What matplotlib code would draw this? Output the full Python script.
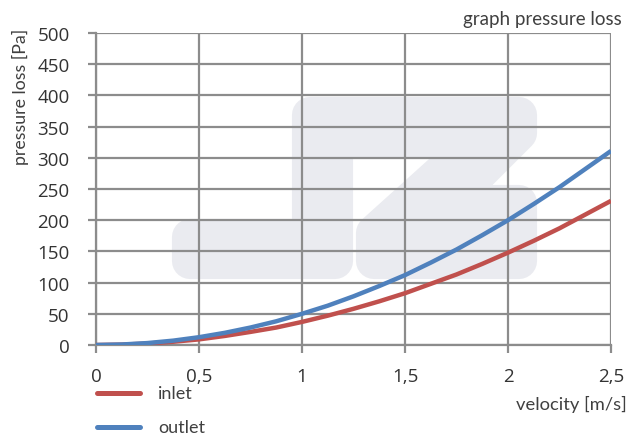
import matplotlib
matplotlib.use("Agg")
import matplotlib.pyplot as plt
from matplotlib.patches import Polygon
from matplotlib.lines import Line2D

# ---- data ----
velocity = [0, 0.125, 0.25, 0.375, 0.5, 0.625, 0.75, 0.875, 1.0, 1.125, 1.25,
            1.375, 1.5, 1.625, 1.75, 1.875, 2.0, 2.125, 2.25, 2.375, 2.5]
inlet = [0, 0.6, 2.3, 5.2, 9, 14.5, 21, 28, 37, 47, 58,
         70, 83, 98, 113, 130, 148, 167, 187, 209, 231]
outlet = [0, 0.8, 3.1, 7, 12.5, 19.5, 28, 38, 50, 63, 78,
          94.5, 112, 132, 153, 176, 200, 226, 253, 282, 311]
x_ticks = [0, 0.5, 1, 1.5, 2, 2.5]
x_ticklabels = ["0", "0,5", "1", "1,5", "2", "2,5"]
y_ticks = [0, 50, 100, 150, 200, 250, 300, 350, 400, 450, 500]

W, H = 630, 435
fig = plt.figure(figsize=(W / 100, H / 100), dpi=100)
L, R, T, B = 96, 611, 34, 346
ax = fig.add_axes([L / W, 1 - B / H, (R - L) / W, (B - T) / H])

ax.set_xlim(0, 2.5)
ax.set_ylim(0, 500)

grid_c = "#8c8c8c"
# watermark logo (pixel coords -> data coords), rounded by a thick stroke
def px2data(px, py):
    return ((px - L) / (R - L) * 2.5, (B - py) / (B - T) * 500)

logo_px = [(310, 116), (519, 116), (519, 134), (449, 204), (519, 204),
           (519, 262), (374, 262), (374, 234), (476, 142), (335, 142),
           (335, 262), (190, 262), (190, 238), (310, 238)]
logo = Polygon([px2data(*p) for p in logo_px], closed=True,
               facecolor="#eaebf0", edgecolor="#eaebf0", linewidth=26,
               joinstyle="round", zorder=0)
ax.add_patch(logo)

ax.set_xticks(x_ticks)
ax.set_xticklabels(x_ticklabels)
ax.set_yticks(y_ticks)
ax.grid(True, color=grid_c, linewidth=1.6, zorder=1)
ax.set_axisbelow(True)
for s in ["top", "right"]:
    ax.spines[s].set_visible(False)
for s in ["left", "bottom"]:
    ax.spines[s].set_color(grid_c)
    ax.spines[s].set_linewidth(1.6)
ax.tick_params(axis="both", colors=grid_c, length=6, width=1.6,
               labelcolor="#333333", labelsize=13.5)
ax.tick_params(axis="x", pad=10)
ax.tick_params(axis="y", pad=13)
for lab in ax.get_xticklabels() + ax.get_yticklabels():
    lab.set_fontfamily("Open Sans")

l1, = ax.plot(velocity, inlet, color="#c0504d", linewidth=3.2, zorder=3,
              solid_capstyle="butt")
l2, = ax.plot(velocity, outlet, color="#4f81bd", linewidth=3.2, zorder=4,
              solid_capstyle="butt")

txt_c = "#404040"
fig.text(622 / W, 1 - 19 / H, "graph pressure loss", ha="right", va="center",
         fontsize=13.5, color=txt_c, family="Lato")
fig.text(20 / W, 1 - 97 / H, "pressure loss [Pa]", ha="center", va="center",
         rotation=90, fontsize=12.8, color=txt_c, family="Lato")
fig.text(627 / W, 1 - 404 / H, "velocity [m/s]", ha="right", va="center",
         fontsize=13.2, color=txt_c, family="Lato")

# legend (manual)
for line, label, py in [(l1, "inlet", 394), (l2, "outlet", 428)]:
    fig.add_artist(Line2D([97 / W, 140 / W], [1 - py / H, 1 - py / H],
                          color=line.get_color(), linewidth=3.6,
                          transform=fig.transFigure, solid_capstyle="round"))
    fig.text(158 / W, 1 - py / H, label, ha="left", va="center",
             fontsize=13, color=txt_c, family="Lato")

fig.savefig("out.png", dpi=100)
